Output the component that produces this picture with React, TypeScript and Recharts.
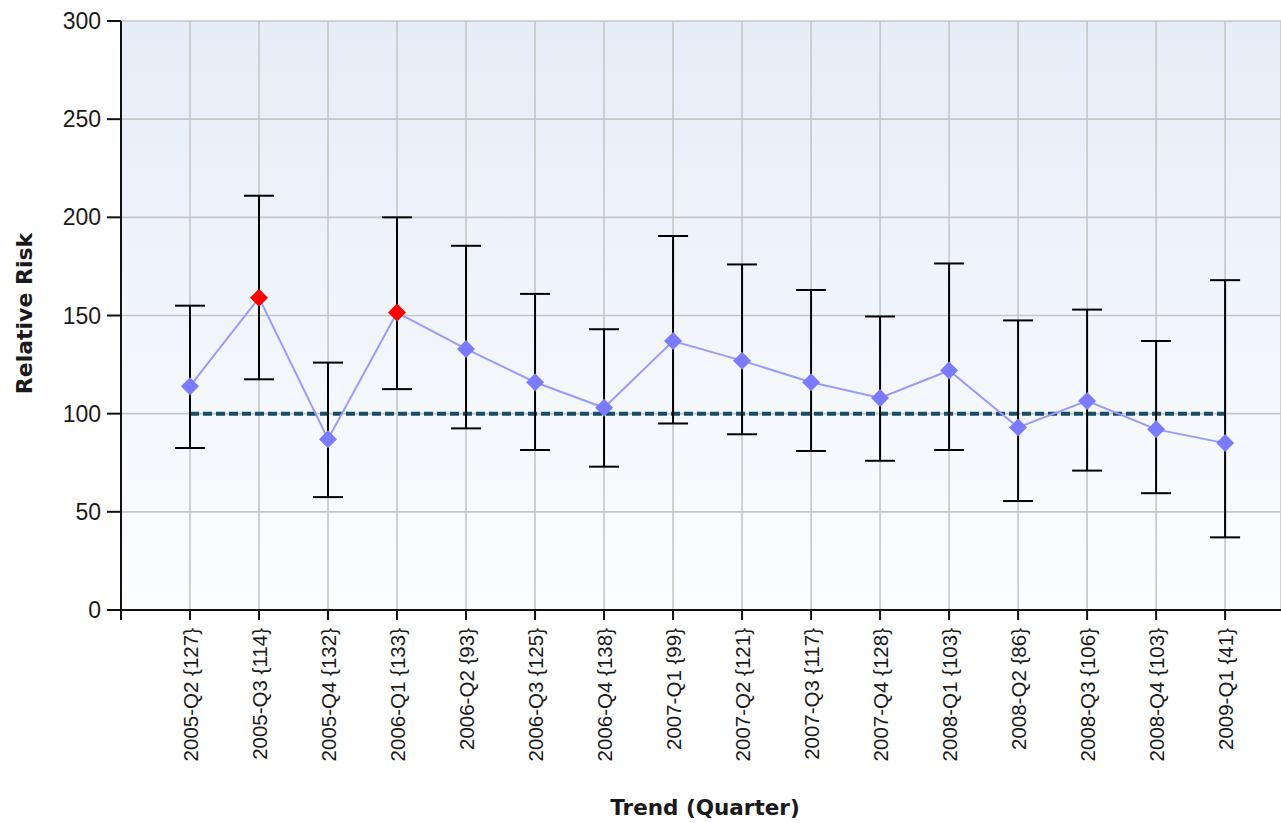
import React from 'react';
import {
  ComposedChart,
  Line,
  XAxis,
  YAxis,
  CartesianGrid,
  ErrorBar,
  ReferenceLine,
} from 'recharts';

// quarter labels and sample counts shown in braces
const quarters = [
  '2005-Q2', '2005-Q3', '2005-Q4', '2006-Q1', '2006-Q2', '2006-Q3', '2006-Q4', '2007-Q1',
  '2007-Q2', '2007-Q3', '2007-Q4', '2008-Q1', '2008-Q2', '2008-Q3', '2008-Q4', '2009-Q1',
];
const counts = [127, 114, 132, 133, 93, 125, 138, 99, 121, 117, 128, 103, 86, 106, 103, 41];

// relative risk with its confidence interval
const relativeRisk = [114, 159, 87, 151.5, 133, 116, 103, 137, 127, 116, 108, 122, 93, 106.5, 92, 85];
const upperCI = [155, 211, 126, 200, 185.5, 161, 143, 190.5, 176, 163, 149.5, 176.5, 147.5, 153, 137, 168];
const lowerCI = [82.5, 117.5, 57.5, 112.5, 92.5, 81.5, 73, 95, 89.5, 81, 76, 81.5, 55.5, 71, 59.5, 37];

const yTicks = [0, 50, 100, 150, 200, 250, 300];
const baseline = 100;

const data = quarters.map((q, i) => ({
  pos: i + 1,
  label: `${q} {${counts[i]}}`,
  rr: relativeRisk[i],
  ci: [relativeRisk[i] - lowerCI[i], upperCI[i] - relativeRisk[i]],
  signif: lowerCI[i] > baseline,
}));

const xTicks = [0, ...data.map((d) => d.pos)];

const tickFont = '"Liberation Sans", Arial, sans-serif';
const titleFont = '"DejaVu Sans", Verdana, sans-serif';

const Diamond = (props: any) => {
  const { cx, cy, payload, index } = props;
  if (cx == null || cy == null) return null;
  const r = 9;
  return (
    <polygon
      key={`dot-${index}`}
      points={`${cx},${cy - r} ${cx + r},${cy} ${cx},${cy + r} ${cx - r},${cy}`}
      fill={payload.signif ? '#ff0000' : '#7b7bff'}
    />
  );
};

const QuarterTick = (props: any) => {
  const { x, y, payload } = props;
  const d = data.find((p) => p.pos === payload.value);
  if (!d) return null;
  return (
    <text
      x={x}
      y={y}
      transform={`rotate(-90 ${x} ${y})`}
      textAnchor="end"
      dominantBaseline="central"
      fontFamily={tickFont}
      fontSize={20.5}
      fill="#1a1a1a"
    >
      {d.label}
    </text>
  );
};

export default function App() {
  return (
    <div style={{ position: 'absolute', left: 0, top: 0, background: '#fff' }}>
      <ComposedChart
        width={1281}
        height={823}
        data={data}
        margin={{ top: 21, right: 0, bottom: 0, left: 0 }}
      >
        <defs>
          <linearGradient id="plotBg" x1="0" y1="0" x2="0" y2="1">
            <stop offset="0%" stopColor="#e6edf8" />
            <stop offset="100%" stopColor="#fcfdff" />
          </linearGradient>
        </defs>
        <CartesianGrid stroke="#c6c6c6" strokeWidth={1.6} fill="url(#plotBg)" fillOpacity={1} />
        <XAxis
          dataKey="pos"
          type="number"
          domain={[0, 16.81]}
          ticks={xTicks}
          interval={0}
          height={213}
          tickSize={10}
          tickMargin={8}
          tick={<QuarterTick />}
          axisLine={{ stroke: '#111', strokeWidth: 2 }}
          tickLine={{ stroke: '#111', strokeWidth: 2 }}
          label={(p: any) => {
            const vb = p.viewBox;
            return (
              <text
                x={vb.x + vb.width / 2 + 4}
                y={vb.y + vb.height - 8}
                textAnchor="middle"
                fontFamily={titleFont}
                fontWeight="bold"
                fontSize={21.5}
                fill="#1a1a1a"
              >
                Trend (Quarter)
              </text>
            );
          }}
        />
        <YAxis
          type="number"
          domain={[0, 300]}
          ticks={yTicks}
          width={121}
          tickSize={14}
          tickMargin={6}
          tick={{ fontFamily: tickFont, fontSize: 23, fill: '#1a1a1a' }}
          axisLine={{ stroke: '#111', strokeWidth: 2 }}
          tickLine={{ stroke: '#111', strokeWidth: 2 }}
          label={(p: any) => {
            const vb = p.viewBox;
            const cx = vb.x + 32;
            const cy = vb.y + vb.height / 2 - 2;
            return (
              <text
                x={cx}
                y={cy}
                transform={`rotate(-90 ${cx} ${cy})`}
                textAnchor="middle"
                fontFamily={titleFont}
                fontWeight="bold"
                fontSize={22}
                fill="#1a1a1a"
              >
                Relative Risk
              </text>
            );
          }}
        />
        <ReferenceLine
          segment={[
            { x: data[0].pos, y: baseline },
            { x: data[data.length - 1].pos, y: baseline },
          ]}
          stroke="#1b4d66"
          strokeWidth={4}
          strokeDasharray="9 4"
        />
        <Line
          dataKey="rr"
          type="linear"
          stroke="#9a9aff"
          strokeWidth={2}
          dot={<Diamond />}
          activeDot={false}
          isAnimationActive={false}
        >
          <ErrorBar dataKey="ci" direction="y" width={15} stroke="#000" strokeWidth={2} />
        </Line>
      </ComposedChart>
    </div>
  );
}
